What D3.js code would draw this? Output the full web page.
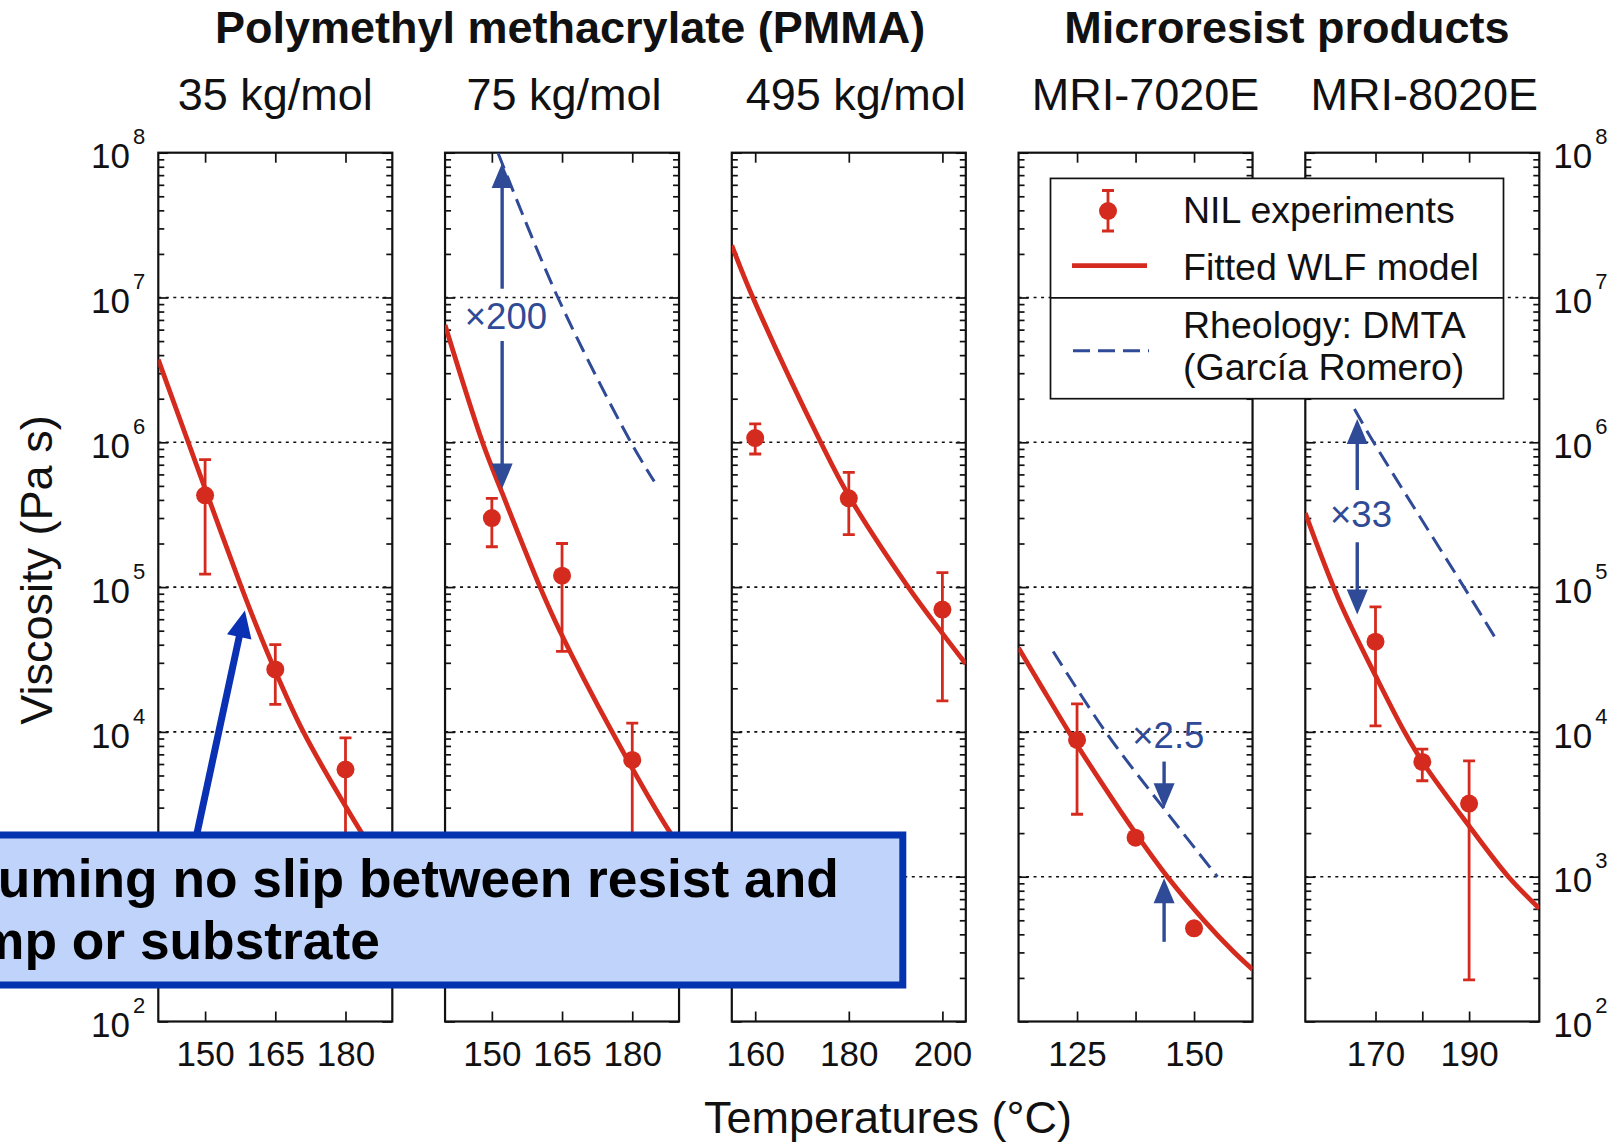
<!DOCTYPE html>
<html>
<head>
<meta charset="utf-8">
<script src="https://cdn.jsdelivr.net/npm/d3@7"></script>
<style>
	body{margin:0;background:#fff}
	svg text{font-family:"Liberation Sans",Arial,Helvetica,sans-serif}
</style>
</head>
<body>
<div id="chart"></div>
<script>

var groupTitles=["Polymethyl methacrylate (PMMA)","Microresist products"]
var panelNames=["35 kg/mol","75 kg/mol","495 kg/mol","MRI-7020E","MRI-8020E"]
var xDomains=[[140,190],[140,190],[155,205],[112.5,162.5],[155,205]]
var xTicks=[[150,165,180],[150,165,180],[160,180,200],[125,137.5,150],[170,180,190]]
var xTickLabels=[["150","165","180"],["150","165","180"],["160","180","200"],["125","","150"],["170","","190"]]
var yDecades=[2,3,4,5,6,7,8]

// fitted WLF model: [temperature (°C), viscosity (Pa s)]
var wlfCurves=[
	[[140,3.72e6],[146.4,1.0e6],[150,4.79e5],[157.5,1.05e5],[161,5.37e4],[165,2.63e4],[171,1.0e4],[183.3,2.04e3],[190,9.3e2]],
	[[140,6.46e6],[148,1.0e6],[152.2,4.47e5],[160.3,1.0e5],[164.5,5.0e4],[175.7,1.0e4],[188,2.04e3],[190,1.66e3]],
	[[155,2.29e7],[159.5,1.0e7],[174,1.0e6],[180,4.27e5],[192.7,1.0e5],[200,4.79e4],[205,2.95e4]],
	[[112.5,3.8e4],[117.2,2.11e4],[123.25,1.0e4],[130,4.57e3],[137.5,2.0e3],[144.3,1.0e3],[152.1,5.0e2],[158.5,3.02e2],[162.5,2.29e2]],
	[[155,3.24e5],[162.2,8.13e4],[170.3,2.34e4],[176.2,1.0e4],[180.3,6.03e3],[190,2.24e3],[198.4,1.0e3],[205,6.03e2]]
]

// rheology DMTA (García Romero), only where measured
var dmtaCurves=[
	null,
	[[151.3,1.0e8],[164.1,1.0e7],[179.7,1.0e6],[184.7,5.37e5]],
	null,
	[[119.9,3.59e4],[131.1,1.0e4],[144.3,2.75e3],[155,1.0e3]],
	[[165.5,1.7e6],[169.6,1.0e6],[188.9,1.0e5],[195.4,4.57e4]]
]

// NIL experiments
var nilT=[[150,165,180],[150,165,180],[160,180,200],[125,137.5,150],[170,180,190]]
var nilV=[[4.3e5,2.7e4,5.5e3],[3.0e5,1.2e5,6.4e3],[1.07e6,4.1e5,7.0e4],[8.8e3,1.86e3,4.4e2],[4.2e4,6.2e3,3.2e3]]
var nilLo=[[1.23e5,1.55e4,1.2e3],[1.9e5,3.6e4,1.0e3],[8.3e5,2.3e5,1.64e4],[2.7e3,null,null],[1.1e4,4.6e3,1.94e2]]
var nilHi=[[7.6e5,4.0e4,9.1e3],[4.1e5,2.0e5,1.15e4],[1.34e6,6.2e5,1.26e5],[1.56e4,null,null],[7.3e4,7.6e3,6.3e3]]

// ratio arrows between model and rheology
var ratioArrows=[
	{panel:1,t:152.2,from:1.15e7,to:8.5e7},
	{panel:1,t:152.2,from:5.01e6,to:4.79e5},
	{panel:3,t:143.6,from:6.24e3,to:2.97e3},
	{panel:3,t:143.6,from:3.55e2,to:9.77e2},
	{panel:4,t:166.1,from:4.68e5,to:1.45e6},
	{panel:4,t:166.1,from:2.04e5,to:6.46e4}
]
var ratioLabels=[
	{panel:1,t:153,v:6.03e6,text:"\u00d7200"},
	{panel:3,t:144.5,v:7.71e3,text:"\u00d72.5"},
	{panel:4,t:166.9,v:2.61e5,text:"\u00d733"}
]

var legendLabels=["NIL experiments","Fitted WLF model","Rheology: DMTA","(García Romero)"]
var calloutLines=["Assuming no slip between resist and","stamp or substrate"]
var calloutTail={t:148.2,v:1.95e3}
var calloutTip={t:158.5,v:6.9e4}

var RED="#d52b1e", NAVY="#2f4a96"

class ViscosityChart{

	constructor(){
		this.L={left:158.3,top:152.7,w:234,h:868.8,pitch:286.75}
		this.box={x:-10,y:835,w:912.8,h:150}
		this.svg=d3.select("#chart").append("svg")
			.attr("width",1617)
			.attr("height",1146)
		this.scales=[]
	}

	draw(){
		this.drawTitles()
		for(var i=0;i<panelNames.length;i++){
			this.drawPanel(i)
		}
		this.drawLegend()
		this.drawCallout()
	}

	drawTitles(){
		var L=this.L
		var svg=this.svg
		var c1=(L.left+L.left+2*L.pitch+L.w)/2+8
		var c2=(L.left+3*L.pitch+L.left+4*L.pitch+L.w)/2+8
		svg.selectAll(".gtitle")
			.data(groupTitles)
			.enter()
			.append("text")
			.attr("x",(d,i)=>i==0?c1:c2)
			.attr("y",43.3)
			.attr("text-anchor","middle")
			.attr("font-size",45)
			.attr("font-weight","bold")
			.attr("fill","#111")
			.text(d=>d)

		var subDx=[0,2,7,10,2]
		svg.selectAll(".ptitle")
			.data(panelNames)
			.enter()
			.append("text")
			.attr("x",(d,i)=>L.left+i*L.pitch+L.w/2+subDx[i])
			.attr("y",110)
			.attr("text-anchor","middle")
			.attr("font-size",45)
			.attr("fill","#111")
			.text(d=>d)

		svg.append("text")
			.attr("x",888)
			.attr("y",1133)
			.attr("text-anchor","middle")
			.attr("font-size",45)
			.attr("fill","#111")
			.text("Temperatures (°C)")

		svg.append("text")
			.attr("transform","translate(51.7,570) rotate(-90)")
			.attr("text-anchor","middle")
			.attr("font-size",45)
			.attr("fill","#111")
			.text("Viscosity (Pa s)")
	}

	drawPanel(i){
		var L=this.L
		var x0=L.left+i*L.pitch
		var x=d3.scaleLinear().domain(xDomains[i]).range([x0,x0+L.w])
		var y=d3.scaleLog().domain([1e2,1e8]).range([L.top+L.h,L.top])
		this.scales[i]={x:x,y:y}

		var g=this.svg.append("g").attr("class","panel")

		g.append("clipPath")
			.attr("id","clip"+i)
			.append("rect")
			.attr("x",x0).attr("y",L.top)
			.attr("width",L.w).attr("height",L.h)

		// dotted decade grid
		g.selectAll(".grid")
			.data(yDecades.slice(1,-1))
			.enter()
			.append("line")
			.attr("x1",x0).attr("x2",x0+L.w)
			.attr("y1",d=>y(Math.pow(10,d)))
			.attr("y2",d=>y(Math.pow(10,d)))
			.attr("stroke","#111")
			.attr("stroke-width",1.6)
			.attr("stroke-dasharray","3,4.5")

		var minor=[]
		yDecades.slice(0,-1).forEach(function(d){
			for(var m=2;m<10;m++) minor.push(m*Math.pow(10,d))
		})
		var majors=yDecades.map(d=>Math.pow(10,d))

		var axes=[
			d3.axisLeft(y).tickValues(minor).tickSize(-6),
			d3.axisRight(y).tickValues(minor).tickSize(-6),
			d3.axisLeft(y).tickValues(majors).tickSize(-10),
			d3.axisRight(y).tickValues(majors).tickSize(-10)
		]
		axes.forEach(function(a,k){
			var ga=g.append("g")
				.attr("transform","translate("+(k%2==0?x0:x0+L.w)+",0)")
				.call(a.tickFormat(""))
			ga.select(".domain").remove()
			ga.selectAll("line").attr("stroke","#111").attr("stroke-width",1.7)
		})

		var gb=g.append("g")
			.attr("transform","translate(0,"+(L.top+L.h)+")")
			.call(d3.axisBottom(x).tickValues(xTicks[i]).tickSize(-10).tickPadding(20)
				.tickFormat((d,k)=>xTickLabels[i][k]))
		gb.select(".domain").remove()
		gb.attr("font-size",35).attr("font-family",null)
		gb.selectAll("line").attr("stroke","#111").attr("stroke-width",1.7)
		gb.selectAll("text").attr("fill","#111")

		var gt=g.append("g")
			.attr("transform","translate(0,"+L.top+")")
			.call(d3.axisTop(x).tickValues(xTicks[i]).tickSize(-10).tickFormat(""))
		gt.select(".domain").remove()
		gt.selectAll("line").attr("stroke","#111").attr("stroke-width",1.7)

		g.append("rect")
			.attr("x",x0).attr("y",L.top)
			.attr("width",L.w).attr("height",L.h)
			.attr("fill","none")
			.attr("stroke","#111")
			.attr("stroke-width",2.2)

		// decade labels on the outer sides (the one under the callout box is hidden in the original)
		if(i==0||i==panelNames.length-1){
			var left=i==0
			var box=this.box
			var decs=yDecades.filter(function(d){
				var yy=y(Math.pow(10,d))
				return !(left&&yy>box.y&&yy<box.y+box.h)
			})
			var lab=g.selectAll(".ylab")
				.data(decs)
				.enter()
				.append("text")
				.attr("x",left?x0-13:x0+L.w+14)
				.attr("y",d=>y(Math.pow(10,d))+15.6)
				.attr("text-anchor",left?"end":"start")
				.attr("font-size",35)
				.attr("fill","#111")
			lab.append("tspan").text("10")
			lab.append("tspan")
				.attr("dx",3)
				.attr("dy",-24)
				.attr("font-size",22)
				.text(d=>d)
		}

		var inner=g.append("g").attr("clip-path","url(#clip"+i+")")

		var line=d3.line()
			.x(d=>x(d[0]))
			.y(d=>y(d[1]))
			.curve(d3.curveCatmullRom.alpha(0.5))

		inner.append("path")
			.datum(wlfCurves[i])
			.attr("d",line)
			.attr("fill","none")
			.attr("stroke",RED)
			.attr("stroke-width",4.8)

		if(dmtaCurves[i]){
			inner.append("path")
				.datum(dmtaCurves[i])
				.attr("d",line)
				.attr("fill","none")
				.attr("stroke",NAVY)
				.attr("stroke-width",3)
				.attr("stroke-dasharray","17,8")
		}

		var pts=nilT[i].map((t,k)=>({t:t,v:nilV[i][k],lo:nilLo[i][k],hi:nilHi[i][k]}))
		var bars=pts.filter(d=>d.lo!=null)
		inner.selectAll(".ebar")
			.data(bars)
			.enter()
			.append("path")
			.attr("d",function(d){
				var cx=x(d.t), a=y(d.hi), b=y(d.lo)
				return "M"+cx+","+a+"V"+b+"M"+(cx-6)+","+a+"H"+(cx+6)+"M"+(cx-6)+","+b+"H"+(cx+6)
			})
			.attr("fill","none")
			.attr("stroke",RED)
			.attr("stroke-width",2.8)
		inner.selectAll(".dot")
			.data(pts)
			.enter()
			.append("circle")
			.attr("cx",d=>x(d.t))
			.attr("cy",d=>y(d.v))
			.attr("r",9)
			.attr("fill",RED)

		var thi=this
		ratioArrows.filter(d=>d.panel==i).forEach(function(d){
			thi.arrow(g,x(d.t),y(d.from),x(d.t),y(d.to),NAVY,3.4,25,21)
		})
		g.selectAll(".rlab")
			.data(ratioLabels.filter(d=>d.panel==i))
			.enter()
			.append("text")
			.attr("x",d=>x(d.t))
			.attr("y",d=>y(d.v))
			.attr("text-anchor","middle")
			.attr("font-size",36.5)
			.attr("fill",NAVY)
			.text(d=>d.text)
	}

	arrow(g,x1,y1,x2,y2,color,w,hl,hw){
		var dx=x2-x1, dy=y2-y1
		var len=Math.sqrt(dx*dx+dy*dy)
		var ux=dx/len, uy=dy/len
		var bx=x2-ux*hl, by=y2-uy*hl
		g.append("line")
			.attr("x1",x1).attr("y1",y1)
			.attr("x2",bx+ux*2).attr("y2",by+uy*2)
			.attr("stroke",color)
			.attr("stroke-width",w)
		g.append("path")
			.attr("d","M"+x2+","+y2+"L"+(bx-uy*hw/2)+","+(by+ux*hw/2)+"L"+(bx+uy*hw/2)+","+(by-ux*hw/2)+"Z")
			.attr("fill",color)
	}

	drawLegend(){
		var g=this.svg.append("g").attr("class","legend")
		g.append("rect")
			.attr("x",1050.5).attr("y",178.4)
			.attr("width",453).attr("height",220.3)
			.attr("fill","#fff")
			.attr("stroke","#111")
			.attr("stroke-width",1.7)
		g.append("line")
			.attr("x1",1050.5).attr("x2",1503.5)
			.attr("y1",297.8).attr("y2",297.8)
			.attr("stroke","#111")
			.attr("stroke-width",1.7)

		g.append("path")
			.attr("d","M1108,190.5V231M1102,190.5H1114M1102,231H1114")
			.attr("stroke",RED)
			.attr("stroke-width",2.8)
			.attr("fill","none")
		g.append("circle")
			.attr("cx",1108).attr("cy",211)
			.attr("r",9)
			.attr("fill",RED)
		g.append("line")
			.attr("x1",1072).attr("x2",1147)
			.attr("y1",265.7).attr("y2",265.7)
			.attr("stroke",RED)
			.attr("stroke-width",4.8)
		g.append("line")
			.attr("x1",1073).attr("x2",1149)
			.attr("y1",350.7).attr("y2",350.7)
			.attr("stroke",NAVY)
			.attr("stroke-width",3)
			.attr("stroke-dasharray","17,8")

		var ys=[223.3,280,338.3,380]
		g.selectAll(".ltext")
			.data(legendLabels)
			.enter()
			.append("text")
			.attr("x",1183)
			.attr("y",(d,i)=>ys[i])
			.attr("font-size",37.5)
			.attr("fill","#111")
			.text(d=>d)
	}

	drawCallout(){
		var g=this.svg.append("g").attr("class","callout")
		var s=this.scales[0]
		var b=this.box
		this.arrow(g,s.x(calloutTail.t),s.y(calloutTail.v),s.x(calloutTip.t),s.y(calloutTip.v),"#0a30b3",7,27,25)

		g.append("rect")
			.attr("x",b.x).attr("y",b.y)
			.attr("width",b.w).attr("height",b.h)
			.attr("fill","#bfd3fb")
			.attr("stroke","#0433b0")
			.attr("stroke-width",7)

		// the callout runs past the left edge of the figure, as in the original
		g.selectAll(".cline")
			.data(calloutLines)
			.enter()
			.append("text")
			.attr("x",-100)
			.attr("y",(d,i)=>897+i*62)
			.attr("font-size",53.3)
			.attr("font-weight","bold")
			.attr("fill","#000")
			.text(d=>d)
	}
}

var chart=new ViscosityChart()
chart.draw()

</script>
</body>
</html>
